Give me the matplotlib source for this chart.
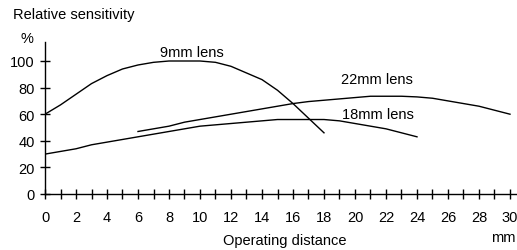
import matplotlib.pyplot as plt
from matplotlib.ticker import MultipleLocator

plt.rcParams['font.family'] = ['Liberation Sans', 'DejaVu Sans']

# operating distance (mm) and relative sensitivity (%) per lens
x_9mm = list(range(0, 19))
y_9mm = [60, 67, 75, 83, 89, 94, 97, 99, 100, 100, 100, 99, 96, 91, 86, 78, 68, 57, 46]

x_22mm = list(range(6, 31))
y_22mm = [47, 49, 51, 54, 56, 58, 60, 62, 64, 66, 68, 69.5, 70.5, 71.5, 72.5, 73.5,
          73.5, 73.5, 73, 72, 70, 68, 66, 63, 60]

x_18mm = list(range(0, 25))
y_18mm = [30, 32, 34, 37, 39, 41, 43, 45, 47, 49, 51, 52, 53, 54, 55, 56, 56, 56, 56,
          55, 53, 51, 49, 46, 43]

xticks = list(range(0, 31, 2))
yticks = [0, 20, 40, 60, 80, 100]

W, H = 517, 251
fig = plt.figure(figsize=(W / 100, H / 100), dpi=100)
# axes box in pixels: x=0 at 45px, y=0 at 195px from top
left, bottom = 45 / W, (H - 195) / H
ax = fig.add_axes([left, bottom, (W - 45) / W, (195 - 43) / H])

ax.plot(x_9mm, y_9mm, color='black', lw=1)
ax.plot(x_22mm, y_22mm, color='black', lw=1)
ax.plot(x_18mm, y_18mm, color='black', lw=1)

ax.set_xlim(0, (W - 45) / 15.5)
ax.set_ylim(0, 152 / 1.33)

for s in ['top', 'right']:
    ax.spines[s].set_visible(False)
for s in ['left', 'bottom']:
    ax.spines[s].set_linewidth(1)

ax.set_xticks(xticks)
ax.xaxis.set_minor_locator(MultipleLocator(1))
ax.set_yticks(yticks)
ax.tick_params(which='both', direction='inout', length=7, width=1,
               labelsize=10.5, color='black')
ax.tick_params(axis='x', pad=8)
ax.tick_params(axis='y', pad=4)

fig.text(13 / W, 1 - 15 / H, 'Relative sensitivity', fontsize=10.5, va='center', ha='left')
fig.text(27 / W, 1 - 39 / H, '%', fontsize=10.5, va='center', ha='center')
fig.text(285 / W, 1 - 241 / H, 'Operating distance', fontsize=10.5, va='center', ha='center')
fig.text(503 / W, 1 - 238 / H, 'mm', fontsize=10.5, va='center', ha='center')

ax.text(9.5, 107, '9mm lens', fontsize=10.5, ha='center', va='center')
ax.text(21.4, 86.5, '22mm lens', fontsize=10.5, ha='center', va='center')
ax.text(21.5, 60, '18mm lens', fontsize=10.5, ha='center', va='center')

fig.savefig('out.png', dpi=100)
